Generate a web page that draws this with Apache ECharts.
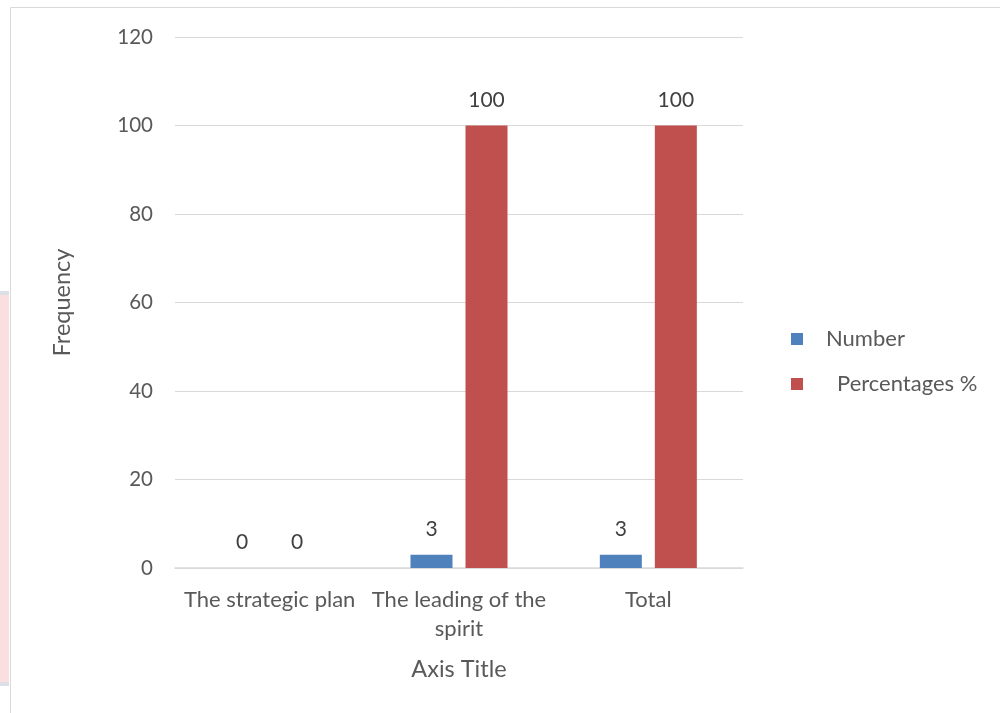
<!DOCTYPE html>
<html>
<head>
<meta charset="utf-8">
<script src="https://cdn.jsdelivr.net/npm/echarts@6/dist/echarts.min.js"></script>
<style>
  html, body { margin: 0; padding: 0; background: #ffffff; }
  #chart { width: 1000px; height: 713px; }
</style>
</head>
<body>
<div id="chart"></div>
<script>
// Categories and series values
const categories = ['The strategic plan', 'The leading of the\nspirit', 'Total'];
const numberValues = [0, 3, 3];
const percentValues = [0, 100, 100];
const seriesNames = ['Number', ' Percentages %'];
const yTicks = { min: 0, max: 120, interval: 20 };

const FONT = 'Lato, "Open Sans", sans-serif';
const TEXT = '#595959';

const chart = echarts.init(document.getElementById('chart'), null, { renderer: 'canvas' });

const labelStyle = {
  show: true,
  position: 'top',
  distance: 15,
  color: '#404040',
  fontFamily: FONT,
  fontSize: 21
};

chart.setOption({
  backgroundColor: '#ffffff',
  animation: false,
  graphic: [
    // chart frame
    { type: 'rect', shape: { x: 10.5, y: 7.5, width: 1000, height: 720 },
      style: { fill: 'none', stroke: '#d9d9d9', lineWidth: 1 }, z: -1 },
    // page edge strip on the left
    { type: 'rect', shape: { x: 0, y: 294, width: 9, height: 392 },
      style: { fill: '#f9dfe0' }, z: -1 },
    { type: 'rect', shape: { x: 0, y: 291, width: 9, height: 4 },
      style: { fill: '#dcdfe6' }, z: -1 },
    { type: 'rect', shape: { x: 0, y: 682, width: 9, height: 4 },
      style: { fill: '#dcdfe6' }, z: -1 }
  ],
  grid: { left: 175, right: 257, top: 37, bottom: 145, containLabel: false },
  legend: {
    orient: 'vertical',
    left: 786,
    top: 323,
    itemWidth: 12,
    itemHeight: 12,
    itemGap: 23,
    icon: 'rect',
    formatter: (name) => name.replace(/^ /, '\u2002'),
    textStyle: { color: TEXT, fontFamily: FONT, fontSize: 22, padding: [0, 0, 0, 18] },
    data: seriesNames
  },
  xAxis: {
    type: 'category',
    data: categories,
    name: 'Axis Title',
    nameLocation: 'middle',
    nameGap: 89,
    nameTextStyle: { color: TEXT, fontFamily: FONT, fontSize: 23.5 },
    axisTick: { show: false },
    axisLine: { lineStyle: { color: '#d9d9d9', width: 1.5 } },
    axisLabel: {
      color: TEXT, fontFamily: FONT, fontSize: 22, margin: 17,
      lineHeight: 29, interval: 0
    }
  },
  yAxis: {
    type: 'value',
    min: yTicks.min,
    max: yTicks.max,
    interval: yTicks.interval,
    name: 'Frequency',
    nameLocation: 'middle',
    nameGap: 101,
    nameRotate: 90,
    nameTextStyle: { color: TEXT, fontFamily: FONT, fontSize: 23.5 },
    axisLine: { show: false },
    axisTick: { show: false },
    axisLabel: { color: TEXT, fontFamily: FONT, fontSize: 20.5, margin: 22 },
    splitLine: { lineStyle: { color: '#d9d9d9', width: 1 } }
  },
  series: [
    {
      name: seriesNames[0],
      type: 'bar',
      data: numberValues,
      barWidth: 42,
      barGap: '31%',
      itemStyle: { color: '#4f81bd' },
      label: labelStyle
    },
    {
      name: seriesNames[1],
      type: 'bar',
      data: percentValues,
      barWidth: 42,
      itemStyle: { color: '#c0504d' },
      label: labelStyle
    }
  ]
});
</script>
</body>
</html>
